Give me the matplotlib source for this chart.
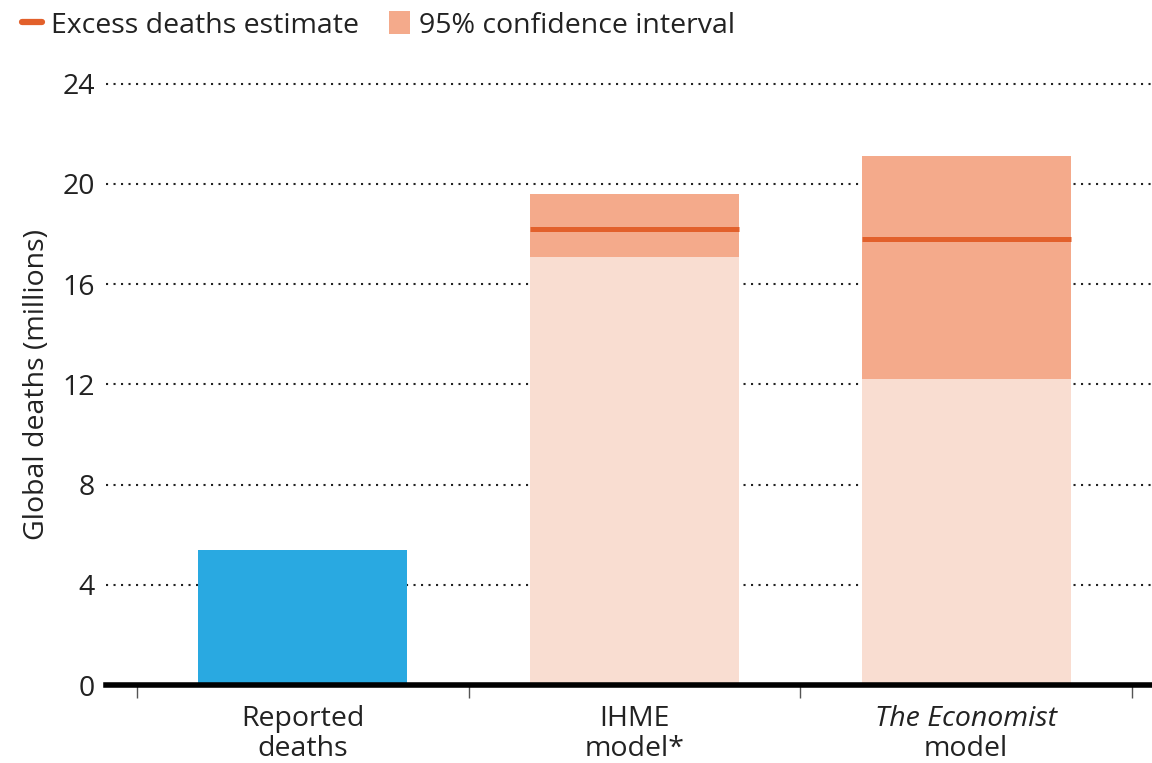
import matplotlib
matplotlib.use('Agg')
import matplotlib.pyplot as plt
from matplotlib.lines import Line2D
from matplotlib.patches import Patch
from matplotlib.transforms import offset_copy
import numpy as np

plt.rcParams['font.family'] = ['Open Sans', 'DejaVu Sans']

# data (millions of deaths)
categories = ['Reported deaths', 'IHME model*', 'The Economist model']
label_top = ['Reported', 'IHME', 'The Economist']
label_bottom = ['deaths', 'model*', 'model']
reported = 5.4
model_pos = [1, 2]
ci_low = [17.1, 12.2]
ci_high = [19.6, 21.1]
estimate = [18.2, 17.8]
yticks = [0, 4, 8, 12, 16, 20, 24]

blue = '#29a9e1'
light = '#f9ddd1'
mid = '#f4aa8b'
line_col = '#e2602b'
txt = '#222222'
fs = 20.5
w = 0.63

fig = plt.figure(figsize=(11.52, 7.63), dpi=100)
ax = fig.add_axes([0.092, 0.102, 0.908, 0.808])

ax.bar(0, reported, width=w, color=blue, zorder=2)
for x, lo, hi, est in zip(model_pos, ci_low, ci_high, estimate):
    ax.bar(x, lo, width=w, color=light, zorder=2)
    ax.bar(x, hi - lo, bottom=lo, width=w, color=mid, zorder=2)
    ax.plot([x - w / 2, x + w / 2], [est, est], color=line_col, lw=3.6,
            solid_capstyle='butt', zorder=3)

ax.set_xlim(-0.593, 2.56)
ax.set_ylim(0, 24.6)
ax.set_yticks(yticks)
ax.set_yticklabels([str(t) for t in yticks], fontsize=fs, color=txt)
ax.tick_params(axis='y', length=0, pad=8)
for t in yticks[1:]:
    ax.axhline(t, color='#222222', lw=1.5, ls=(0, (1, 2.6)), zorder=1)

for s in ['top', 'right', 'left']:
    ax.spines[s].set_visible(False)
ax.spines['bottom'].set_linewidth(4)
ax.spines['bottom'].set_zorder(4)

ax.set_xticks([0, 1, 2])
ax.set_xticklabels([])
ax.tick_params(axis='x', which='major', length=0)
ax.set_xticks([-0.5, 0.5, 1.5, 2.5], minor=True)
ax.tick_params(axis='x', which='minor', length=9, width=1, color='#555555')

tr = ax.get_xaxis_transform()
for i in range(3):
    style = 'italic' if i == 2 else 'normal'
    ax.text(i, 0, label_top[i], transform=offset_copy(tr, fig=fig, y=-34, units='dots'),
            ha='center', va='center', fontsize=fs, style=style, color=txt)
    ax.text(i, 0, label_bottom[i], transform=offset_copy(tr, fig=fig, y=-64, units='dots'),
            ha='center', va='center', fontsize=fs, color=txt)

ax.set_ylabel('Global deaths (millions)', fontsize=fs, color=txt)
ax.yaxis.set_label_coords(-0.053, 12 / 24.6)

handles = [Line2D([0], [0], color=line_col, lw=4.5, solid_capstyle='round'),
           Patch(facecolor=mid, edgecolor='none')]
fig.legend(handles, ['Excess deaths estimate', '95% confidence interval'],
           loc='upper left', bbox_to_anchor=(0.009, 1.0), borderaxespad=0,
           ncol=2, frameon=False, fontsize=fs, handlelength=0.72,
           handleheight=0.85, handletextpad=0.32, columnspacing=1.05,
           labelcolor=txt)

fig.savefig('out.png', dpi=100)
